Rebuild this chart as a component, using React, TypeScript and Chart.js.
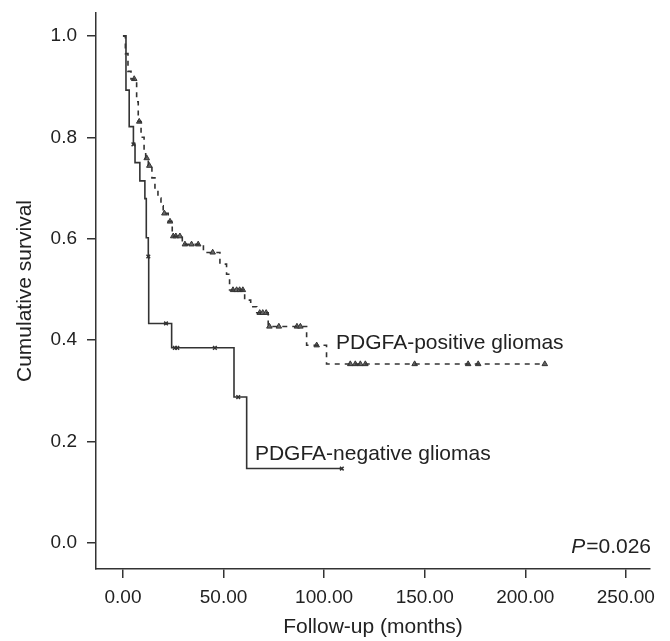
import React, { useEffect, useRef } from "react";
import { Chart, registerables } from "chart.js";

Chart.register(...registerables);

// Axis ticks
const xTicks = [0, 50, 100, 150, 200, 250];
const yTicks = [0, 0.2, 0.4, 0.6, 0.8, 1.0];

// PDGFA-positive gliomas: Kaplan–Meier steps (time in months, survival after step)
const posTimes = [0, 1.2, 2.5, 4.0, 6.8, 7.6, 9.0, 10.5, 11.3, 12.6, 14.4, 15.9, 17.4, 18.9, 20.0, 22.5, 24.5, 29.5, 40.0, 48.2, 51.5, 53.0, 60.5, 63.5, 66.5, 72.2, 91.3, 101.2, 209.7];
const posSurv = [1.0, 0.965, 0.93, 0.915, 0.87, 0.831, 0.8, 0.775, 0.759, 0.744, 0.72, 0.7, 0.68, 0.665, 0.65, 0.634, 0.605, 0.589, 0.573, 0.55, 0.53, 0.499, 0.479, 0.466, 0.454, 0.427, 0.39, 0.353, 0.353];
// Censored cases (triangles)
const posCensorTimes = [5.6, 8.1, 11.8, 13.1, 20.6, 23.4, 25.0, 26.3, 28.3, 30.8, 34.1, 37.4, 44.6, 54.7, 56.5, 58.0, 59.6, 68.0, 69.5, 71.2, 72.8, 77.5, 86.5, 88.2, 96.3, 113.0, 115.5, 118.0, 120.5, 145.0, 171.6, 176.6, 209.7];
const posCensorSurv = [0.915, 0.831, 0.759, 0.744, 0.65, 0.634, 0.605, 0.605, 0.605, 0.589, 0.589, 0.589, 0.573, 0.499, 0.499, 0.499, 0.499, 0.454, 0.454, 0.454, 0.427, 0.427, 0.427, 0.427, 0.39, 0.353, 0.353, 0.353, 0.353, 0.353, 0.353, 0.353, 0.353];

// PDGFA-negative gliomas
const negTimes = [0, 1.5, 3.1, 5.2, 6.0, 8.4, 10.9, 11.6, 12.6, 12.8, 24.2, 55.2, 61.5, 108.8];
const negSurv = [1.0, 0.893, 0.821, 0.786, 0.75, 0.714, 0.679, 0.602, 0.565, 0.433, 0.385, 0.288, 0.147, 0.147];
const negCensorTimes = [5.2, 12.6, 21.4, 25.8, 27.0, 45.7, 57.3, 108.8];
const negCensorSurv = [0.786, 0.565, 0.433, 0.385, 0.385, 0.385, 0.288, 0.147];

// Text
const posLabel = "PDGFA-positive gliomas";
const negLabel = "PDGFA-negative gliomas";
const posLabelAt = [105.9, 0.3826];
const negLabelAt = [65.6, 0.1637];
const pValueText = "=0.026";
const xTitle = "Follow-up (months)";
const yTitle = "Cumulative survival";

const FONT = '"Liberation Sans", Arial, Helvetica, sans-serif';
const INK = "#222";
const LINE = "#333";

const toXY = (xs: number[], ys: number[]) => xs.map((x, i) => ({ x, y: ys[i] }));

const textPlugin = {
  id: "kmText",
  afterDatasetsDraw(chart: any) {
    const { ctx, chartArea, scales } = chart;
    const xs = scales.x;
    const ys = scales.y;
    ctx.save();
    ctx.fillStyle = INK;
    ctx.textBaseline = "alphabetic";
    ctx.textAlign = "left";
    ctx.font = `21px ${FONT}`;
    ctx.fillText(posLabel, xs.getPixelForValue(posLabelAt[0]), ys.getPixelForValue(posLabelAt[1]));
    ctx.fillText(negLabel, xs.getPixelForValue(negLabelAt[0]), ys.getPixelForValue(negLabelAt[1]));
    const right = chartArea.right + 1;
    const base = ys.getPixelForValue(0) + 10;
    const wRest = ctx.measureText(pValueText).width;
    ctx.fillText(pValueText, right - wRest, base);
    ctx.font = `italic 21px ${FONT}`;
    const wP = ctx.measureText("P").width;
    ctx.fillText("P", right - wRest - wP - 1, base);
    ctx.restore();
  },
};

export default function App() {
  const ref = useRef<HTMLCanvasElement | null>(null);

  useEffect(() => {
    document.body.style.margin = "0";
    const canvas = ref.current;
    if (!canvas) return;
    const chart = new Chart(canvas, {
      type: "line",
      data: {
        datasets: [
          {
            label: "PDGFA-positive",
            data: toXY(posTimes, posSurv),
            stepped: "before",
            borderColor: LINE,
            borderWidth: 1.6,
            borderDash: [5, 5],
            pointRadius: 0,
            fill: false,
          },
          {
            label: "PDGFA-negative",
            data: toXY(negTimes, negSurv),
            stepped: "before",
            borderColor: LINE,
            borderWidth: 1.6,
            pointRadius: 0,
            fill: false,
          },
          {
            label: "positive censored",
            data: toXY(posCensorTimes, posCensorSurv),
            showLine: false,
            pointStyle: "triangle",
            pointRadius: 3.2,
            pointBackgroundColor: "#666",
            pointBorderColor: "#333",
            pointBorderWidth: 1,
          },
          {
            label: "negative censored",
            data: toXY(negCensorTimes, negCensorSurv),
            showLine: false,
            pointStyle: "crossRot",
            pointRadius: 2.6,
            pointBorderColor: "#333",
            pointBorderWidth: 1.5,
          },
        ],
      },
      options: {
        animation: false,
        responsive: false,
        maintainAspectRatio: false,
        layout: { padding: { top: 13, right: 20, left: 0, bottom: 0 } },
        plugins: { legend: { display: false }, tooltip: { enabled: false } },
        scales: {
          x: {
            type: "linear",
            min: -13.4,
            max: 262,
            afterBuildTicks: (s: any) => {
              s.ticks = xTicks.map((v) => ({ value: v }));
            },
            afterFit: (s: any) => {
              s.height = 72;
              s.paddingLeft = 0;
              s.paddingRight = 0;
            },
            grid: { drawOnChartArea: false, drawTicks: true, tickLength: 9, color: LINE, lineWidth: 1.5 },
            border: { display: true, color: LINE, width: 1.5 },
            ticks: {
              color: INK,
              font: { family: FONT, size: 19 },
              padding: 8,
              maxRotation: 0,
              callback: (v: any) => Number(v).toFixed(2),
            },
            title: {
              display: true,
              text: xTitle,
              color: INK,
              font: { family: FONT, size: 21 },
              padding: { top: 0, bottom: 1 },
            },
          },
          y: {
            type: "linear",
            min: -0.051,
            max: 1.045,
            afterBuildTicks: (s: any) => {
              s.ticks = yTicks.map((v) => ({ value: v }));
            },
            afterFit: (s: any) => {
              s.width = 96;
              s.paddingTop = 0;
              s.paddingBottom = 0;
            },
            grid: { drawOnChartArea: false, drawTicks: true, tickLength: 9, color: LINE, lineWidth: 1.5 },
            border: { display: true, color: LINE, width: 1.5 },
            ticks: {
              color: INK,
              font: { family: FONT, size: 19 },
              padding: 10,
              callback: (v: any) => Number(v).toFixed(1),
            },
            title: {
              display: true,
              text: yTitle,
              color: INK,
              font: { family: FONT, size: 21 },
              padding: { top: 13, bottom: 0 },
            },
          },
        },
      },
      plugins: [textPlugin],
    });
    return () => chart.destroy();
  }, []);

  return (
    <div style={{ width: 670, height: 641 }}>
      <canvas ref={ref} width={670} height={641} style={{ display: "block" }} />
    </div>
  );
}
